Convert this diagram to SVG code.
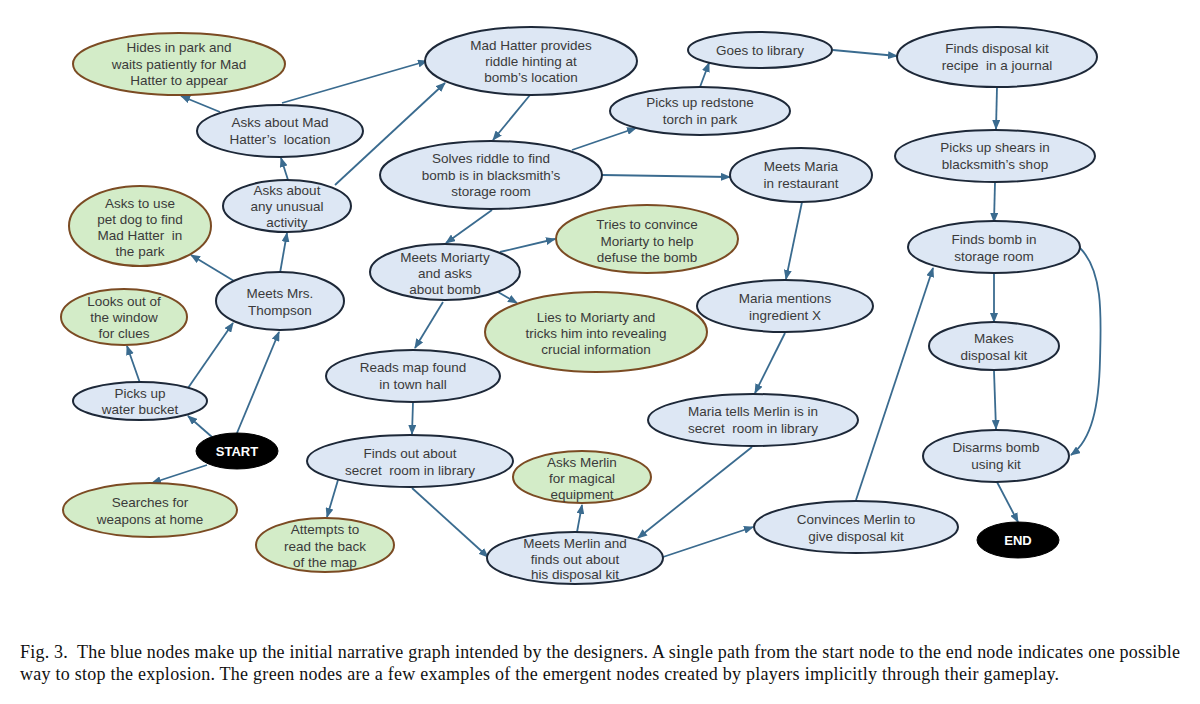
<svg xmlns="http://www.w3.org/2000/svg" width="1200" height="704" viewBox="0 0 1200 704">
<defs>
<marker id="ah" markerUnits="userSpaceOnUse" markerWidth="10" markerHeight="8" viewBox="0 0 10 8" refX="9" refY="4" orient="auto">
<path d="M0,0 L10,4 L0,8 Z" fill="#3a6b8f"/>
</marker>
<style>
.b{fill:#dde7f4;stroke:#1d2838;stroke-width:2}
.g{fill:#d3ecc8;stroke:#7b4b23;stroke-width:2}
.k{fill:#000;stroke:#000;stroke-width:1}
text{font-family:"Liberation Sans",Arial,sans-serif;font-size:13.5px;fill:#3a3a3a;text-anchor:middle}
.w{fill:#fff;font-weight:bold;font-size:13px}
.e{fill:none;stroke:#3a6b8f;stroke-width:1.8;marker-end:url(#ah)}
.cap{font-family:"Liberation Serif","Times New Roman",serif;font-size:18px;fill:#111;text-anchor:start}
</style>
</defs>
<rect width="1200" height="704" fill="#fff"/>

<g id="connectors">
<line class="e" x1="212" y1="437" x2="188" y2="416"/>
<line class="e" x1="237" y1="433" x2="279" y2="332"/>
<line class="e" x1="207" y1="465" x2="152" y2="483"/>
<line class="e" x1="140" y1="383" x2="127" y2="346"/>
<line class="e" x1="188" y1="388" x2="233" y2="323"/>
<line class="e" x1="234" y1="281" x2="191" y2="255"/>
<line class="e" x1="280" y1="273" x2="287" y2="233"/>
<line class="e" x1="288" y1="180" x2="281" y2="158"/>
<line class="e" x1="335" y1="185" x2="445" y2="83"/>
<line class="e" x1="220" y1="112" x2="181" y2="96"/>
<line class="e" x1="282" y1="103" x2="427" y2="61"/>
<line class="e" x1="530" y1="95" x2="493" y2="140"/>
<line class="e" x1="572" y1="150" x2="636" y2="128"/>
<line class="e" x1="700" y1="87" x2="709" y2="63"/>
<line class="e" x1="833" y1="50" x2="897" y2="56"/>
<line class="e" x1="602" y1="175" x2="730" y2="177"/>
<line class="e" x1="492" y1="210" x2="446" y2="243"/>
<line class="e" x1="802" y1="202" x2="786" y2="279"/>
<line class="e" x1="785" y1="333" x2="755" y2="393"/>
<line class="e" x1="752" y1="447" x2="638" y2="538"/>
<line class="e" x1="500" y1="252" x2="555" y2="239"/>
<line class="e" x1="498" y1="292" x2="517" y2="303"/>
<line class="e" x1="443" y1="302" x2="415" y2="348"/>
<line class="e" x1="413" y1="402" x2="412" y2="434"/>
<line class="e" x1="338" y1="480" x2="327" y2="517"/>
<line class="e" x1="412" y1="488" x2="488" y2="557"/>
<line class="e" x1="577" y1="532" x2="582" y2="505"/>
<line class="e" x1="663" y1="557" x2="753" y2="527"/>
<line class="e" x1="856" y1="500" x2="933" y2="268"/>
<line class="e" x1="997" y1="87" x2="996" y2="129"/>
<line class="e" x1="995" y1="182" x2="994" y2="222"/>
<line class="e" x1="994" y1="274" x2="994" y2="322"/>
<line class="e" x1="994" y1="371" x2="996" y2="429"/>
<path class="e" d="M1080,248 C1104,272 1101,320 1100,360 C1099,405 1092,440 1071,455"/>
<line class="e" x1="997" y1="482" x2="1018" y2="522"/>
</g>

<g id="n-hides"><ellipse class="g" cx="179" cy="64" rx="106" ry="31"/><text><tspan x="179" y="52">Hides in park and</tspan><tspan x="179" y="68.5">waits patiently for Mad</tspan><tspan x="179" y="85">Hatter to appear</tspan></text></g>
<g id="n-askloc"><ellipse class="b" cx="280" cy="131" rx="83" ry="26"/><text><tspan x="280" y="127">Asks about Mad</tspan><tspan x="280" y="143.5">Hatter’s&#160; location</tspan></text></g>
<g id="n-unusual"><ellipse class="b" cx="287" cy="206" rx="64" ry="26"/><text><tspan x="287" y="195">Asks about</tspan><tspan x="287" y="211">any unusual</tspan><tspan x="287" y="227">activity</tspan></text></g>
<g id="n-riddle"><ellipse class="b" cx="531" cy="61" rx="106" ry="34"/><text><tspan x="531" y="50">Mad Hatter provides</tspan><tspan x="531" y="66">riddle hinting at</tspan><tspan x="531" y="82">bomb’s location</tspan></text></g>
<g id="n-library"><ellipse class="b" cx="760" cy="50" rx="72" ry="18"/><text><tspan x="760" y="55">Goes to library</tspan></text></g>
<g id="n-torch"><ellipse class="b" cx="700" cy="111" rx="90" ry="24"/><text><tspan x="700" y="107">Picks up redstone</tspan><tspan x="700" y="123.5">torch in park</tspan></text></g>
<g id="n-solves"><ellipse class="b" cx="491" cy="175" rx="111" ry="34"/><text><tspan x="491" y="163">Solves riddle to find</tspan><tspan x="491" y="179.5">bomb is in blacksmith’s</tspan><tspan x="491" y="196">storage room</tspan></text></g>
<g id="n-maria"><ellipse class="b" cx="801" cy="175" rx="71" ry="27"/><text><tspan x="801" y="171">Meets Maria</tspan><tspan x="801" y="187.5">in restaurant</tspan></text></g>
<g id="n-recipe"><ellipse class="b" cx="997" cy="57" rx="100" ry="30"/><text><tspan x="997" y="53">Finds disposal kit</tspan><tspan x="997" y="69.5">recipe&#160; in a journal</tspan></text></g>
<g id="n-shears"><ellipse class="b" cx="995" cy="156" rx="100" ry="26"/><text><tspan x="995" y="152">Picks up shears in</tspan><tspan x="995" y="168.5">blacksmith’s shop</tspan></text></g>
<g id="n-findbomb"><ellipse class="b" cx="994" cy="247" rx="86" ry="26"/><text><tspan x="994" y="244">Finds bomb in</tspan><tspan x="994" y="260.5">storage room</tspan></text></g>
<g id="n-makes"><ellipse class="b" cx="994" cy="346" rx="65" ry="24"/><text><tspan x="994" y="343">Makes</tspan><tspan x="994" y="359.5">disposal kit</tspan></text></g>
<g id="n-disarms"><ellipse class="b" cx="996" cy="456" rx="73" ry="26"/><text><tspan x="996" y="452">Disarms bomb</tspan><tspan x="996" y="468.5">using kit</tspan></text></g>
<g id="n-end"><ellipse class="k" cx="1018" cy="540" rx="41" ry="18"/><text class="w" x="1018" y="545">END</text></g>
<g id="n-convinces"><ellipse class="b" cx="856" cy="527" rx="102" ry="26"/><text><tspan x="856" y="524">Convinces Merlin to</tspan><tspan x="856" y="540.5">give disposal kit</tspan></text></g>
<g id="n-mariatells"><ellipse class="b" cx="753" cy="420" rx="105" ry="26"/><text><tspan x="753" y="416">Maria tells Merlin is in</tspan><tspan x="753" y="432.5">secret&#160; room in library</tspan></text></g>
<g id="n-ingredient"><ellipse class="b" cx="785" cy="306" rx="88" ry="26"/><text><tspan x="785" y="303">Maria mentions</tspan><tspan x="785" y="319.5">ingredient X</tspan></text></g>
<g id="n-tries"><ellipse class="g" cx="647" cy="239" rx="91" ry="34"/><text><tspan x="647" y="229">Tries to convince</tspan><tspan x="647" y="245.5">Moriarty to help</tspan><tspan x="647" y="262">defuse the bomb</tspan></text></g>
<g id="n-moriarty"><ellipse class="b" cx="445" cy="272" rx="75" ry="28"/><text><tspan x="445" y="262">Meets Moriarty</tspan><tspan x="445" y="278">and asks</tspan><tspan x="445" y="294">about bomb</tspan></text></g>
<g id="n-lies"><ellipse class="g" cx="596" cy="332" rx="111" ry="40"/><text><tspan x="596" y="322">Lies to Moriarty and</tspan><tspan x="596" y="338">tricks him into revealing</tspan><tspan x="596" y="354">crucial information</tspan></text></g>
<g id="n-readsmap"><ellipse class="b" cx="413" cy="376" rx="87" ry="26"/><text><tspan x="413" y="372">Reads map found</tspan><tspan x="413" y="388.5">in town hall</tspan></text></g>
<g id="n-secret"><ellipse class="b" cx="410" cy="461" rx="103" ry="26"/><text><tspan x="410" y="458">Finds out about</tspan><tspan x="410" y="474.5">secret&#160; room in library</tspan></text></g>
<g id="n-magical"><ellipse class="g" cx="582" cy="477" rx="69" ry="26"/><text><tspan x="582" y="467">Asks Merlin</tspan><tspan x="582" y="483">for magical</tspan><tspan x="582" y="499">equipment</tspan></text></g>
<g id="n-attempts"><ellipse class="g" cx="325" cy="545" rx="69" ry="27"/><text><tspan x="325" y="534">Attempts to</tspan><tspan x="325" y="550.5">read the back</tspan><tspan x="325" y="567">of the map</tspan></text></g>
<g id="n-meetsmerlin"><ellipse class="b" cx="575" cy="558" rx="88" ry="26"/><text><tspan x="575" y="548">Meets Merlin and</tspan><tspan x="575" y="563.5">finds out about</tspan><tspan x="575" y="579">his disposal kit</tspan></text></g>
<g id="n-start"><ellipse class="k" cx="237" cy="451" rx="41" ry="18"/><text class="w" x="237" y="456">START</text></g>
<g id="n-weapons"><ellipse class="g" cx="150" cy="510" rx="87" ry="27"/><text><tspan x="150" y="507">Searches for</tspan><tspan x="150" y="523.5">weapons at home</tspan></text></g>
<g id="n-bucket"><ellipse class="b" cx="140" cy="401" rx="67" ry="19"/><text><tspan x="140" y="398">Picks up</tspan><tspan x="140" y="414">water bucket</tspan></text></g>
<g id="n-window"><ellipse class="g" cx="124" cy="317" rx="63" ry="28"/><text><tspan x="124" y="306">Looks out of</tspan><tspan x="124" y="322">the window</tspan><tspan x="124" y="338">for clues</tspan></text></g>
<g id="n-thompson"><ellipse class="b" cx="280" cy="301" rx="64" ry="29"/><text><tspan x="280" y="298">Meets Mrs.</tspan><tspan x="280" y="314.5">Thompson</tspan></text></g>
<g id="n-petdog"><ellipse class="g" cx="140" cy="226" rx="71" ry="40"/><text><tspan x="140" y="207.5">Asks to use</tspan><tspan x="140" y="223.5">pet dog to find</tspan><tspan x="140" y="239.5">Mad Hatter&#160; in</tspan><tspan x="140" y="255.5">the park</tspan></text></g>

<g id="caption">
<text class="cap" x="20" y="658" textLength="1160" lengthAdjust="spacing">Fig. 3.&#160; The blue nodes make up the initial narrative graph intended by the designers. A single path from the start node to the end node indicates one possible</text>
<text class="cap" x="20" y="680" textLength="1039" lengthAdjust="spacing">way to stop the explosion. The green nodes are a few examples of the emergent nodes created by players implicitly through their gameplay.</text>
</g>
</svg>
